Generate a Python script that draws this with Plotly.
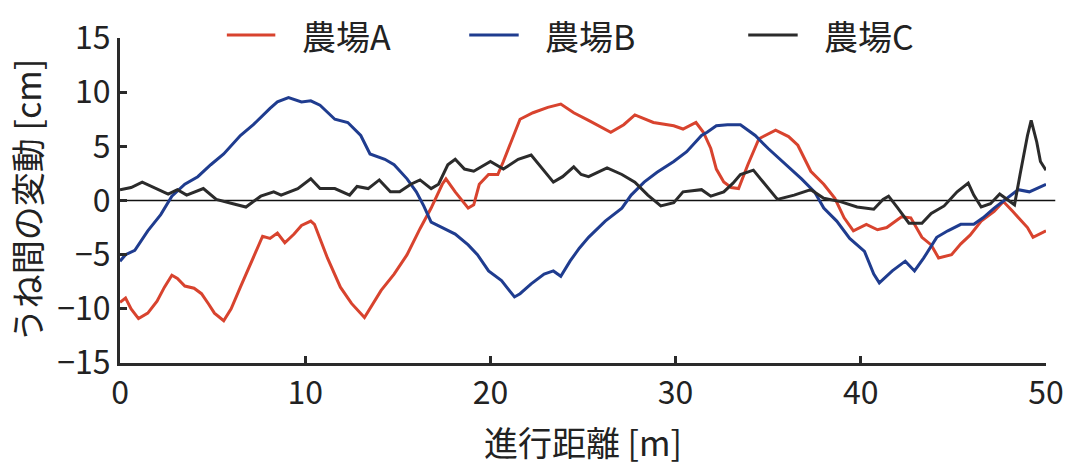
import plotly.graph_objects as go

# Ridge-to-ridge deviation along travel distance for three farms
series_names = ["農場A", "農場B", "農場C"]
series_colors = ["#d8432e", "#1f3c8f", "#2b2b2b"]

farm_a_x = [0.0, 0.3, 0.6, 1.0, 1.5, 2.0, 2.4, 2.8, 3.1, 3.5, 4.0, 4.4, 4.8, 5.1, 5.6,
            6.0, 6.5, 7.1, 7.7, 8.1, 8.5, 8.9, 9.4, 9.8, 10.3, 10.5, 11.2, 11.9, 12.5,
            13.2, 13.5, 14.1, 14.8, 15.5, 16.2, 16.8, 17.4, 17.6, 18.1, 18.8, 19.1,
            19.4, 19.9, 20.4, 20.7, 21.1, 21.6, 22.3, 23.1, 23.8, 24.5, 25.3, 26.0,
            26.5, 27.2, 27.8, 28.8, 29.9, 30.4, 31.1, 31.5, 31.9, 32.2, 32.6, 33.0,
            33.4, 33.9, 34.5, 35.4, 36.1, 36.6, 37.3, 38.0, 38.6, 39.1, 39.6, 40.3,
            40.9, 41.4, 42.2, 42.7, 43.3, 43.8, 44.2, 44.9, 45.4, 45.9, 46.5, 47.2,
            47.7, 48.2, 49.0, 49.3, 50.0]
farm_a_y = [-9.4, -9.0, -10.0, -10.9, -10.4, -9.3, -8.0, -6.9, -7.2, -7.9, -8.1, -8.6,
            -9.6, -10.4, -11.1, -10.0, -8.0, -5.6, -3.3, -3.5, -3.0, -3.9, -3.1, -2.3,
            -1.9, -2.2, -5.3, -8.0, -9.5, -10.8, -10.0, -8.3, -6.8, -5.0, -2.6, -0.7,
            1.5, 2.0, 0.8, -0.7, -0.4, 1.5, 2.4, 2.4, 3.6, 5.4, 7.5, 8.1, 8.6, 8.9,
            8.1, 7.4, 6.8, 6.3, 7.0, 7.9, 7.2, 6.9, 6.6, 7.2, 6.3, 4.8, 2.9, 1.7, 1.2,
            1.1, 3.3, 5.7, 6.5, 5.9, 5.1, 2.7, 1.5, 0.2, -1.6, -2.8, -2.2, -2.7, -2.5,
            -1.5, -1.6, -3.4, -4.1, -5.3, -5.0, -4.0, -3.2, -1.9, -1.0, -0.1, -1.0,
            -2.5, -3.4, -2.8]

farm_b_x = [0.0, 0.3, 0.8, 1.5, 2.2, 2.8, 3.5, 4.2, 4.9, 5.6, 6.5, 7.2, 8.1, 8.5, 9.1,
            9.8, 10.3, 10.8, 11.6, 12.3, 13.0, 13.5, 14.3, 14.8, 15.5, 16.0, 16.4,
            16.8, 17.4, 18.1, 18.8, 19.3, 19.9, 20.6, 21.3, 21.6, 22.2, 22.9, 23.4,
            23.8, 24.3, 24.8, 25.3, 26.2, 27.1, 27.6, 28.3, 29.0, 29.9, 30.6, 31.4,
            31.7, 32.2, 32.8, 33.5, 34.3, 35.0, 35.9, 36.8, 37.5, 38.0, 38.7, 39.4,
            40.2, 40.7, 41.0, 41.7, 42.4, 42.9, 43.4, 44.1, 44.7, 45.4, 46.1, 46.6,
            47.2, 47.9, 48.5, 49.1, 50.0]
farm_b_y = [-5.6, -5.0, -4.6, -2.8, -1.3, 0.4, 1.5, 2.2, 3.3, 4.3, 6.0, 7.0, 8.5, 9.1,
            9.5, 9.1, 9.2, 8.8, 7.5, 7.2, 6.0, 4.3, 3.8, 3.3, 2.0, 0.8, -0.5, -2.0,
            -2.5, -3.1, -4.1, -5.0, -6.5, -7.4, -8.9, -8.6, -7.7, -6.8, -6.5, -7.0,
            -5.6, -4.4, -3.4, -1.9, -0.7, 0.5, 1.7, 2.6, 3.6, 4.5, 6.0, 6.3, 6.9, 7.0,
            7.0, 6.0, 4.8, 3.4, 2.0, 0.8, -0.7, -1.9, -3.5, -4.7, -6.8, -7.6, -6.5,
            -5.6, -6.5, -5.3, -3.4, -2.8, -2.2, -2.2, -1.6, -0.7, 0.2, 1.0, 0.8, 1.5]

farm_c_x = [0.0, 0.6, 1.2, 1.8, 2.6, 3.1, 3.6, 4.5, 5.2, 6.1, 6.8, 7.6, 8.3, 8.7, 9.6,
            10.3, 10.8, 11.6, 12.4, 12.8, 13.4, 14.0, 14.6, 15.1, 15.7, 16.2, 16.8,
            17.2, 17.7, 18.1, 18.6, 19.1, 20.0, 20.7, 21.5, 22.2, 22.9, 23.4, 23.9,
            24.5, 24.9, 25.3, 26.3, 27.1, 27.8, 28.5, 29.2, 29.9, 30.4, 31.4, 31.9,
            32.6, 33.1, 33.5, 34.2, 34.6, 35.5, 36.4, 37.3, 38.0, 38.9, 39.8, 40.7,
            41.2, 41.5, 42.0, 42.6, 43.3, 43.8, 44.5, 45.2, 45.8, 46.1, 46.5, 47.0,
            47.5, 48.1, 48.3, 48.6, 49.0, 49.2, 49.5, 49.7, 50.0]
farm_c_y = [1.0, 1.2, 1.7, 1.2, 0.6, 1.0, 0.5, 1.1, 0.1, -0.3, -0.6, 0.4, 0.8, 0.5,
            1.1, 2.0, 1.1, 1.1, 0.5, 1.3, 1.1, 1.9, 0.8, 0.8, 1.5, 1.9, 1.1, 1.5, 3.3,
            3.8, 2.9, 2.7, 3.6, 2.9, 3.8, 4.2, 2.8, 1.7, 2.2, 3.1, 2.4, 2.2, 3.0, 2.4,
            1.7, 0.5, -0.5, -0.2, 0.8, 1.0, 0.4, 0.8, 1.6, 2.4, 2.8, 2.0, 0.1, 0.5,
            1.0, 0.2, -0.1, -0.6, -0.8, 0.1, 0.4, -0.7, -2.1, -2.1, -1.2, -0.5, 0.8,
            1.6, 0.5, -0.6, -0.3, 0.6, -0.1, -0.4, 2.4, 6.0, 7.4, 5.4, 3.6, 2.8]

x_ticks = [0, 10, 20, 30, 40, 50]
y_ticks = [-15, -10, -5, 0, 5, 10, 15]

face = "Noto Sans CJK JP, Noto Sans, sans-serif"
ink = "#222222"
axis_ink = "#2a2a2a"

fig = go.Figure()
for xs, ys, name, color in zip([farm_a_x, farm_b_x, farm_c_x],
                               [farm_a_y, farm_b_y, farm_c_y],
                               series_names, series_colors):
    fig.add_trace(go.Scatter(x=xs, y=ys, mode="lines", name=name,
                             line=dict(color=color, width=3), showlegend=False))

# Baseline at zero, running slightly past the last tick
fig.add_shape(type="line", xref="paper", yref="y", x0=0, x1=1.01, y0=0, y1=0,
              line=dict(color="#111111", width=1.5), layer="below")

# Legend row drawn above the plot: sample line followed by the farm name
legend_line_x = [(228, 277), (473, 523), (755, 805)]
plot_left, plot_w, plot_bottom, plot_h = 120, 936, 363, 328
for (x0, x1), name, color in zip(legend_line_x, series_names, series_colors):
    py = (plot_bottom - 32) / plot_h
    fig.add_shape(type="line", xref="paper", yref="paper",
                  x0=(x0 - plot_left) / plot_w, x1=(x1 - plot_left) / plot_w,
                  y0=py, y1=py, line=dict(color=color, width=3))
    fig.add_annotation(text=name, xref="paper", yref="paper",
                       x=(x1 + 25 - plot_left) / plot_w, y=py,
                       xanchor="left", yanchor="middle", showarrow=False,
                       font=dict(family=face, size=34, color=ink))

fig.update_layout(
    width=1076, height=470,
    margin=dict(l=120, r=20, t=35, b=107),
    paper_bgcolor="white", plot_bgcolor="white",
    font=dict(family=face, color=ink),
)
fig.update_xaxes(
    range=[0, 50], tickvals=x_ticks, ticks="inside", ticklen=7, tickwidth=3,
    tickcolor=axis_ink, showline=True, linewidth=3, linecolor=axis_ink,
    showgrid=False, zeroline=False, tickfont=dict(size=32, family=face, color=ink),
    title=dict(text="進行距離 [m]", font=dict(size=34, family=face, color=ink), standoff=20),
)
fig.update_yaxes(
    range=[-15, 15], tickvals=y_ticks, ticks="inside", ticklen=7, tickwidth=3,
    tickcolor=axis_ink, showline=True, linewidth=3, linecolor=axis_ink,
    showgrid=False, zeroline=False, tickfont=dict(size=32, family=face, color=ink),
    title=dict(text="うね間の変動 [cm]", font=dict(size=34, family=face, color=ink), standoff=6),
)

fig.write_html("out.html")
